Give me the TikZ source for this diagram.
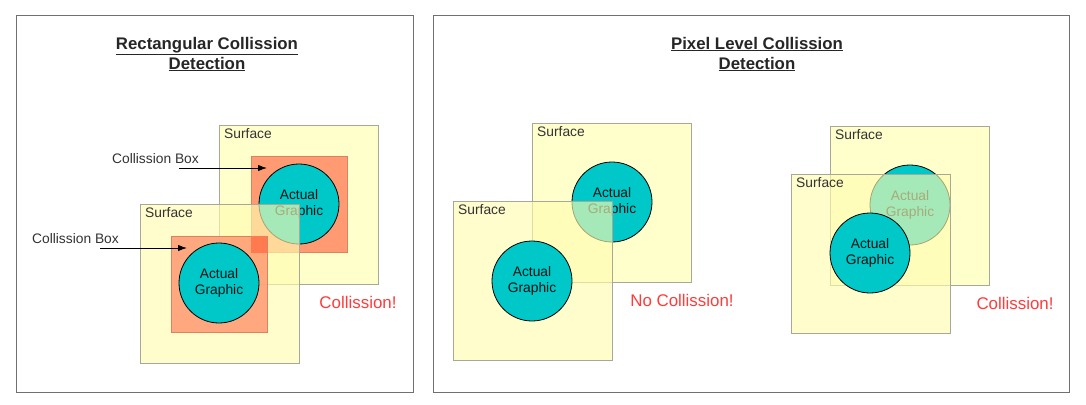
\documentclass[tikz,border=0pt]{standalone}
\usepackage{fontspec}
\setmainfont{Liberation Sans}
\usetikzlibrary{arrows.meta}
\definecolor{surfY}{HTML}{FFFFCC}
\definecolor{surfT}{HTML}{FFFCB0}
\definecolor{boxO}{HTML}{FF9A72}
\definecolor{boxD}{HTML}{FF7A4E}
\definecolor{circT}{HTML}{00C8C8}
\definecolor{redT}{HTML}{FF3B3B}
\definecolor{surfE}{HTML}{A8A898}
\definecolor{panelE}{HTML}{707070}
\newcommand\lblfont{\fontsize{13.8}{16}\selectfont}
\newcommand\titlefont{\fontsize{16.8}{20}\selectfont\bfseries}
\newcommand\redfont{\fontsize{16.9}{20}\selectfont}
\tikzset{
  panel/.style={draw=panelE, line width=1.4pt, minimum width=#1, minimum height=377pt, inner sep=0pt, anchor=north west},
  surface/.style={draw=surfE, fill=surfY, minimum width=159pt, minimum height=159pt, inner sep=0pt, line width=0.8pt, anchor=north west},
  surfacetop/.style={surface, fill=surfT, fill opacity=0.65},
  cbox/.style={draw=boxO!85!black, fill=boxO, minimum width=96pt, minimum height=96pt, inner sep=0pt, line width=0.5pt, anchor=north west},
  graphic/.style={circle, draw=black, fill=circT, minimum size=80pt, inner sep=0pt, align=center, font=\lblfont, text=black!85!teal, line width=0.8pt},
  lbl/.style={font=\lblfont, text=black!80, inner sep=0pt},
  surflbl/.style={lbl, anchor=north west},
  title/.style={font=\titlefont, text=black!85, align=center, inner sep=0pt},
  result/.style={font=\redfont, text=redT, inner sep=0pt},
  pointer/.style={draw=black, line width=0.9pt, -{Latex[length=9pt,width=6.5pt]}}
}
\begin{document}
\begin{tikzpicture}[x=1pt,y=-1pt]
\useasboundingbox (0,0) rectangle (1086,404);
\fill[white] (0,0) rectangle (1086,404);

% ---------- left panel ----------
\node[panel=397pt] (pl) at (16,15) {};
\node[title] (tl) at (207,54) {\underline{Rectangular Collission}\\\underline{Detection}};

\node[surface] (s1) at (219,125) {};
\node[surflbl] (s1l) at ([shift={(5pt,-3pt)}]s1.north west) {Surface};
\node[cbox] (b1) at (251,156) {};
\node[graphic] (c1) at (299,204) {Actual\\Graphic};

\node[surfacetop] (s2) at (140,204) {};
\node[surflbl] (s2l) at ([shift={(5pt,-3pt)}]s2.north west) {Surface};
\node[cbox, fill opacity=0.85] (b2) at (171,236) {};
\begin{scope}
  \clip (251,156) rectangle (347,252);
  \fill[boxD] (171,236) rectangle (267,331);
\end{scope}
\node[graphic] (c2) at (219,283) {Actual\\Graphic};

\node[lbl] (cb1) at (155.5,159) {Collission Box};
\coordinate (a1s) at (179,168);
\coordinate (a1e) at (267,168);
\draw[pointer] (a1s) -- (a1e);
\node[lbl] (cb2) at (75.5,239) {Collission Box};
\coordinate (a2s) at (100,248);
\coordinate (a2e) at (187,248);
\draw[pointer] (a2s) -- (a2e);

\node[result] (r1) at (358,302) {Collission!};

% ---------- right panel ----------
\node[panel=636pt] (pr) at (433,15) {};
\node[title] (tr) at (757,54) {\underline{Pixel Level Collission}\\\underline{Detection}};

% no collision pair
\node[surface] (sa) at (532,123) {};
\node[surflbl] (sal) at ([shift={(5pt,-3pt)}]sa.north west) {Surface};
\node[graphic] (ca) at (612,202) {Actual\\Graphic};
\node[surfacetop] (sb) at (453,201) {};
\node[surflbl] (sbl) at ([shift={(5pt,-3pt)}]sb.north west) {Surface};
\node[graphic] (cb) at (532,281) {Actual\\Graphic};
\node[result] (r2) at (682,300) {No Collission!};

% collision pair
\node[surface] (sc) at (830,126) {};
\node[surflbl] (scl) at ([shift={(5pt,-3pt)}]sc.north west) {Surface};
\node[graphic] (cc) at (910,205) {Actual\\Graphic};
\node[surfacetop] (sd) at (791,174) {};
\node[surflbl] (sdl) at ([shift={(5pt,-3pt)}]sd.north west) {Surface};
\node[graphic] (cd) at (870,253) {Actual\\Graphic};
\node[result] (r3) at (1015,303) {Collission!};
\end{tikzpicture}
\end{document}
